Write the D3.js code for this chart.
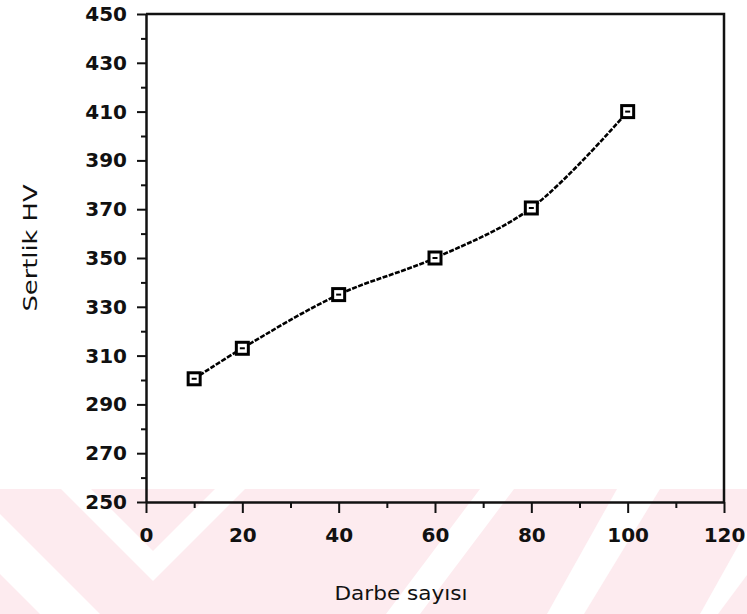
<!DOCTYPE html>
<html lang="tr">
<head>
    <meta charset="UTF-8">
    <title>Sertlik - Darbe sayısı</title>
    <script src="https://d3js.org/d3.v7.min.js"></script>
    <style>
    body { margin: 0; background: #fff; }
    svg { display: block; }
    .axis text { font-family: "DejaVu Sans", sans-serif; font-weight: bold; font-size: 20px; fill: #111; }
    .axis path, .axis line { stroke: #111; }
    .label { font-family: "DejaVu Sans Condensed", "DejaVu Sans", sans-serif; font-size: 19px; fill: #111; }
    </style>
</head>
<body>
<svg id="chart"></svg>
<script>
    // data
    const darbe = [10, 20, 40, 60, 80, 100];
    const sertlik = [300.5, 313, 335, 350, 370.5, 410];
    const xTicks = [0, 20, 40, 60, 80, 100, 120];
    const xMinor = [10, 30, 50, 70, 90, 110];
    const yTicks = [250, 270, 290, 310, 330, 350, 370, 390, 410, 430, 450];
    const yMinor = [260, 280, 300, 320, 340, 360, 380, 400, 420, 440];

    const W = 747, H = 614;
    const plotL = 146, plotR = 724, plotT = 14, plotB = 502;

    const svg = d3.select('#chart')
        .attr('width', W)
        .attr('height', H);

    // pink watermark band at the bottom
    const wm = svg.append('g');
    wm.append('rect')
        .attr('x', 0).attr('y', 489)
        .attr('width', W).attr('height', H - 489)
        .attr('fill', '#fdebef');
    const white = [
        [[61, 489], [91, 489], [153, 551], [215, 489], [245, 489], [153, 581]],
        [[0, 514], [100, 614], [40, 614], [0, 574]],
        [[480, 489], [514, 489], [420, 614], [386, 614]],
        [[617, 489], [660, 489], [584, 614], [547, 614]],
        [[747, 530], [747, 575], [718, 614], [700, 614]]
    ];
    wm.selectAll('polygon')
        .data(white)
        .enter().append('polygon')
        .attr('points', d => d.map(p => p.join(',')).join(' '))
        .attr('fill', '#fff');

    const x = d3.scaleLinear().domain([0, 120]).range([plotL, plotR]);
    const y = d3.scaleLinear().domain([250, 450]).range([plotB, plotT]);

    // minor ticks
    svg.append('g')
        .attr('class', 'axis')
        .attr('transform', `translate(${plotL},0)`)
        .call(d3.axisLeft(y).tickValues(yMinor).tickSize(5).tickFormat(''))
        .call(g => g.select('.domain').remove())
        .selectAll('line').attr('stroke-width', 2);
    svg.append('g')
        .attr('class', 'axis')
        .attr('transform', `translate(0,${plotB})`)
        .call(d3.axisBottom(x).tickValues(xMinor).tickSize(6).tickFormat(''))
        .call(g => g.select('.domain').remove())
        .selectAll('line').attr('stroke-width', 2);

    // major ticks with labels
    const yAxis = svg.append('g')
        .attr('class', 'axis')
        .attr('transform', `translate(${plotL},0)`)
        .call(d3.axisLeft(y).tickValues(yTicks).tickSize(9).tickPadding(10).tickSizeOuter(0));
    yAxis.select('.domain').attr('stroke-width', 2.5);
    yAxis.selectAll('line').attr('stroke-width', 2);

    const xAxis = svg.append('g')
        .attr('class', 'axis')
        .attr('transform', `translate(0,${plotB})`)
        .call(d3.axisBottom(x).tickValues(xTicks).tickSize(11).tickPadding(15).tickSizeOuter(0));
    xAxis.select('.domain').attr('stroke-width', 2.5);
    xAxis.selectAll('line').attr('stroke-width', 2);

    // frame: top and right
    svg.append('path')
        .attr('d', `M${x(0)},${y(450)}H${x(120)}V${y(250)}`)
        .attr('fill', 'none')
        .attr('stroke', '#111')
        .attr('stroke-width', 2.5);

    // the curve
    const pts = darbe.map((d, i) => [d, sertlik[i]]);
    const line = d3.line()
        .x(d => x(d[0]))
        .y(d => y(d[1]))
        .curve(d3.curveCatmullRom.alpha(0.5));
    svg.append('path')
        .datum(pts)
        .attr('d', line)
        .attr('fill', 'none')
        .attr('stroke', '#000')
        .attr('stroke-width', 2.6)
        .attr('stroke-dasharray', '5,1.5');

    // square markers
    const mk = svg.selectAll('.mk')
        .data(pts)
        .enter().append('g')
        .attr('class', 'mk')
        .attr('transform', d => `translate(${x(d[0])},${y(d[1])})`);
    mk.append('rect')
        .attr('x', -6).attr('y', -6)
        .attr('width', 12).attr('height', 12)
        .attr('fill', '#fff')
        .attr('stroke', '#000')
        .attr('stroke-width', 3);
    mk.append('line')
        .attr('x1', -2.5).attr('x2', 2.5)
        .attr('y1', 0).attr('y2', 0)
        .attr('stroke', '#000')
        .attr('stroke-width', 2);

    // axis titles
    svg.append('text')
        .attr('class', 'label')
        .attr('x', 401)
        .attr('y', 600)
        .attr('text-anchor', 'middle')
        .attr('textLength', 133)
        .attr('lengthAdjust', 'spacingAndGlyphs')
        .text('Darbe sayısı');

    svg.append('text')
        .attr('class', 'label')
        .attr('transform', 'translate(37,248) rotate(-90)')
        .attr('text-anchor', 'middle')
        .attr('textLength', 127)
        .attr('lengthAdjust', 'spacingAndGlyphs')
        .text('Sertlik HV');
</script>
</body>
</html>
